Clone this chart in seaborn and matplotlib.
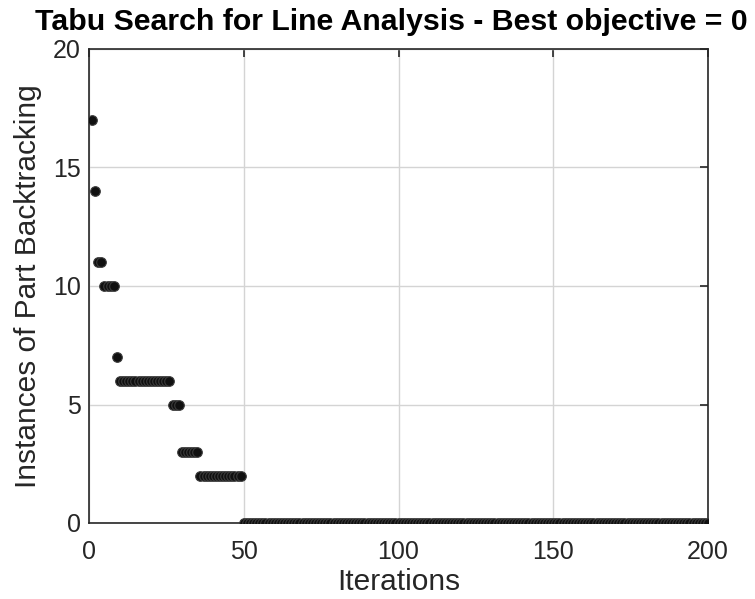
import numpy as np
import pandas as pd
import matplotlib
matplotlib.use('Agg')
import matplotlib.pyplot as plt
import seaborn as sns

# best objective value per iteration as (first iteration, last iteration, value)
run_starts = [1, 2, 3, 5, 9, 10, 27, 30, 36, 50]
run_ends = [1, 2, 4, 8, 9, 26, 29, 35, 49, 200]
run_values = [17, 14, 11, 10, 7, 6, 5, 3, 2, 0]

iterations = []
objective = []
for s, e, v in zip(run_starts, run_ends, run_values):
    for it in range(s, e + 1):
        iterations.append(it)
        objective.append(v)

df = pd.DataFrame({'Iterations': iterations, 'Objective': objective})

sns.set_style('white')
plt.rcParams['font.family'] = ['Liberation Sans', 'DejaVu Sans']

fig = plt.figure(figsize=(7.55, 5.99), dpi=100)
ax = fig.add_axes([89 / 755, 1 - 523 / 599, (708 - 89) / 755, (523 - 49) / 599])

sns.scatterplot(data=df, x='Iterations', y='Objective', ax=ax,
                color='#101010', edgecolor='#3a3a3a', linewidth=0.8, s=48, zorder=3)

ax.set_xlim(0, 200)
ax.set_ylim(0, 20)
ax.set_xticks([0, 50, 100, 150, 200])
ax.set_yticks([0, 5, 10, 15, 20])
ax.grid(True, color='#d4d4d4', linewidth=1)
ax.set_axisbelow(True)
for sp in ax.spines.values():
    sp.set_color('#262626')
    sp.set_linewidth(1.2)
ax.tick_params(direction='in', length=6, width=1.2, color='#262626',
               labelsize=18, labelcolor='#262626', top=True, right=True, pad=6)
ax.tick_params(axis='x', pad=12)

ax.set_xlabel('Iterations', fontsize=21.5, color='#262626', labelpad=3)
ax.set_ylabel('Instances of Part Backtracking', fontsize=21.5, color='#262626', labelpad=8)
fig.text(391 / 755, 1 - 22 / 599, 'Tabu Search for Line Analysis - Best objective = 0',
         fontsize=21.8, fontweight='bold', color='black', ha='center', va='center')

fig.savefig('out.png', dpi=100)
